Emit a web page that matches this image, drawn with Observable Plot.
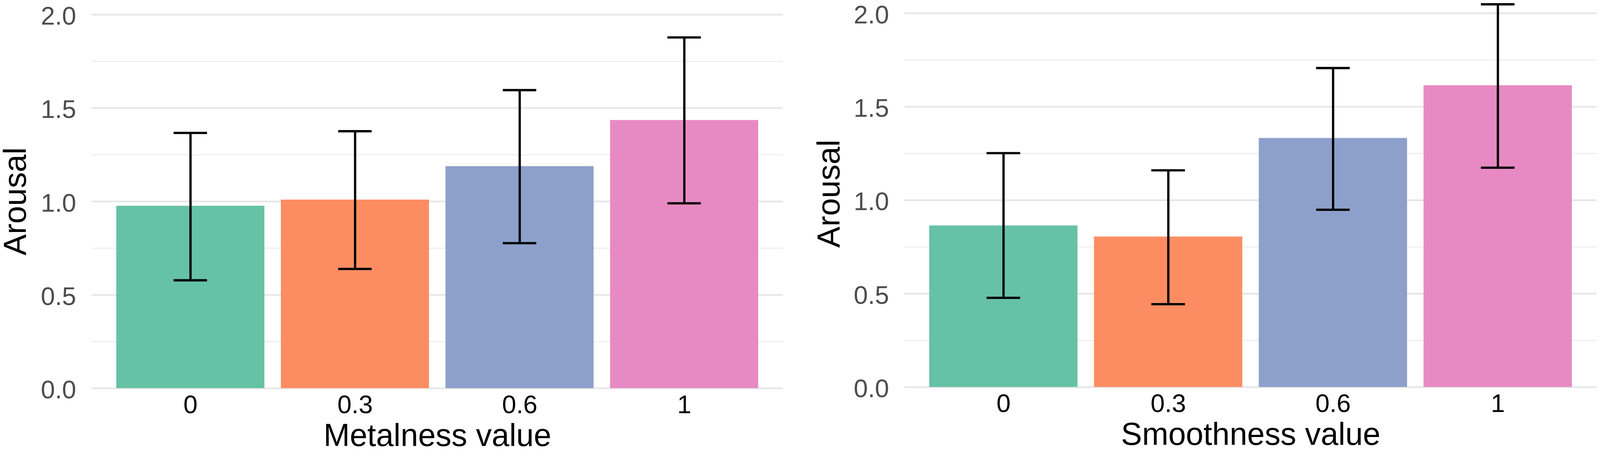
<!DOCTYPE html>
<html>
<head>
<meta charset="utf-8">
<script src="https://cdn.jsdelivr.net/npm/d3@7"></script>
<script src="https://cdn.jsdelivr.net/npm/@observablehq/plot@0.6"></script>
<style>
  html, body { margin: 0; padding: 0; background: #ffffff; overflow: hidden; }
  #wrap { display: flex; flex-direction: row; align-items: flex-start; width: 100vw; }
  #wrap svg { width: 50vw !important; max-width: none !important; height: auto !important; flex: 0 0 auto; }
  svg { font-family: "Liberation Sans", Arial, sans-serif; }
</style>
</head>
<body>
<div id="wrap"></div>
<script>
// ---- data ----
const categories = ["0", "0.3", "0.6", "1"];
const barColors = ["#66C2A5", "#FC8D62", "#8DA0CB", "#E78AC3"];

const metalnessMean = [0.976, 1.009, 1.188, 1.435];
const metalnessLow  = [0.578, 0.639, 0.777, 0.990];
const metalnessHigh = [1.367, 1.376, 1.596, 1.878];

const smoothnessMean = [0.864, 0.805, 1.332, 1.614];
const smoothnessLow  = [0.478, 0.444, 0.949, 1.174];
const smoothnessHigh = [1.252, 1.160, 1.707, 2.048];

const majorTicks = [0, 0.5, 1.0, 1.5, 2.0];
const minorTicks = [0.25, 0.75, 1.25, 1.75];

const yTitle = "Arousal";
const leftTitle = "Metalness value";
const rightTitle = "Smoothness value";

function panel({xTitle, mean, low, high, yMax, marginLeft, marginRight, marginTop, marginBottom, yTitleDx}) {
  const rows = categories.map((c, i) => ({cat: c, mean: mean[i], low: low[i], high: high[i]}));
  return Plot.plot({
    width: 2106,
    height: 1183,
    marginLeft, marginRight, marginTop, marginBottom,
    style: {background: "#ffffff", fontFamily: "'Liberation Sans', Arial, sans-serif"},
    x: {type: "band", domain: categories, paddingInner: 0.1, paddingOuter: 0.15, round: false},
    y: {domain: [0, yMax]},
    color: {type: "ordinal", domain: categories, range: barColors},
    marks: [
      Plot.ruleY(minorTicks, {stroke: "#EBEBEB", strokeWidth: 2.5}),
      Plot.ruleY(majorTicks, {stroke: "#E6E6E6", strokeWidth: 4.5}),
      Plot.barY(rows, {x: "cat", y: "mean", fill: "cat"}),
      Plot.ruleX(rows, {x: "cat", y1: "low", y2: "high", stroke: "black", strokeWidth: 6}),
      Plot.tickY(rows, {x: "cat", y: "high", stroke: "black", strokeWidth: 6, insetLeft: 151, insetRight: 151}),
      Plot.tickY(rows, {x: "cat", y: "low", stroke: "black", strokeWidth: 6, insetLeft: 151, insetRight: 151}),
      Plot.axisY({ticks: majorTicks, tickFormat: d3.format(".1f"), tickSize: 0, tickPadding: 41,
                  fontSize: 67, color: "#4D4D4D", fill: "#4D4D4D", label: null, dy: 5}),
      Plot.axisX({tickSize: 0, tickPadding: 18, fontSize: 67, color: "black", fill: "black", label: null}),
      Plot.text([xTitle], {text: d => d, frameAnchor: "bottom", dy: 152, lineAnchor: "bottom",
                           fontSize: 83, fill: "black"}),
      Plot.text([yTitle], {text: d => d, frameAnchor: "left", dx: yTitleDx, rotate: -90,
                           textAnchor: "middle", lineAnchor: "middle", fontSize: 84, fill: "black"})
    ]
  });
}

const wrap = document.getElementById("wrap");
wrap.appendChild(panel({
  xTitle: leftTitle, mean: metalnessMean, low: metalnessLow, high: metalnessHigh,
  yMax: 2.0, marginLeft: 241, marginRight: 45, marginTop: 38, marginBottom: 161, yTitleDx: -201
}));
wrap.appendChild(panel({
  xTitle: rightTitle, mean: smoothnessMean, low: smoothnessLow, high: smoothnessHigh,
  yMax: 2.07, marginLeft: 275, marginRight: 9, marginTop: 0, marginBottom: 164, yTitleDx: -199
}));
</script>
</body>
</html>
